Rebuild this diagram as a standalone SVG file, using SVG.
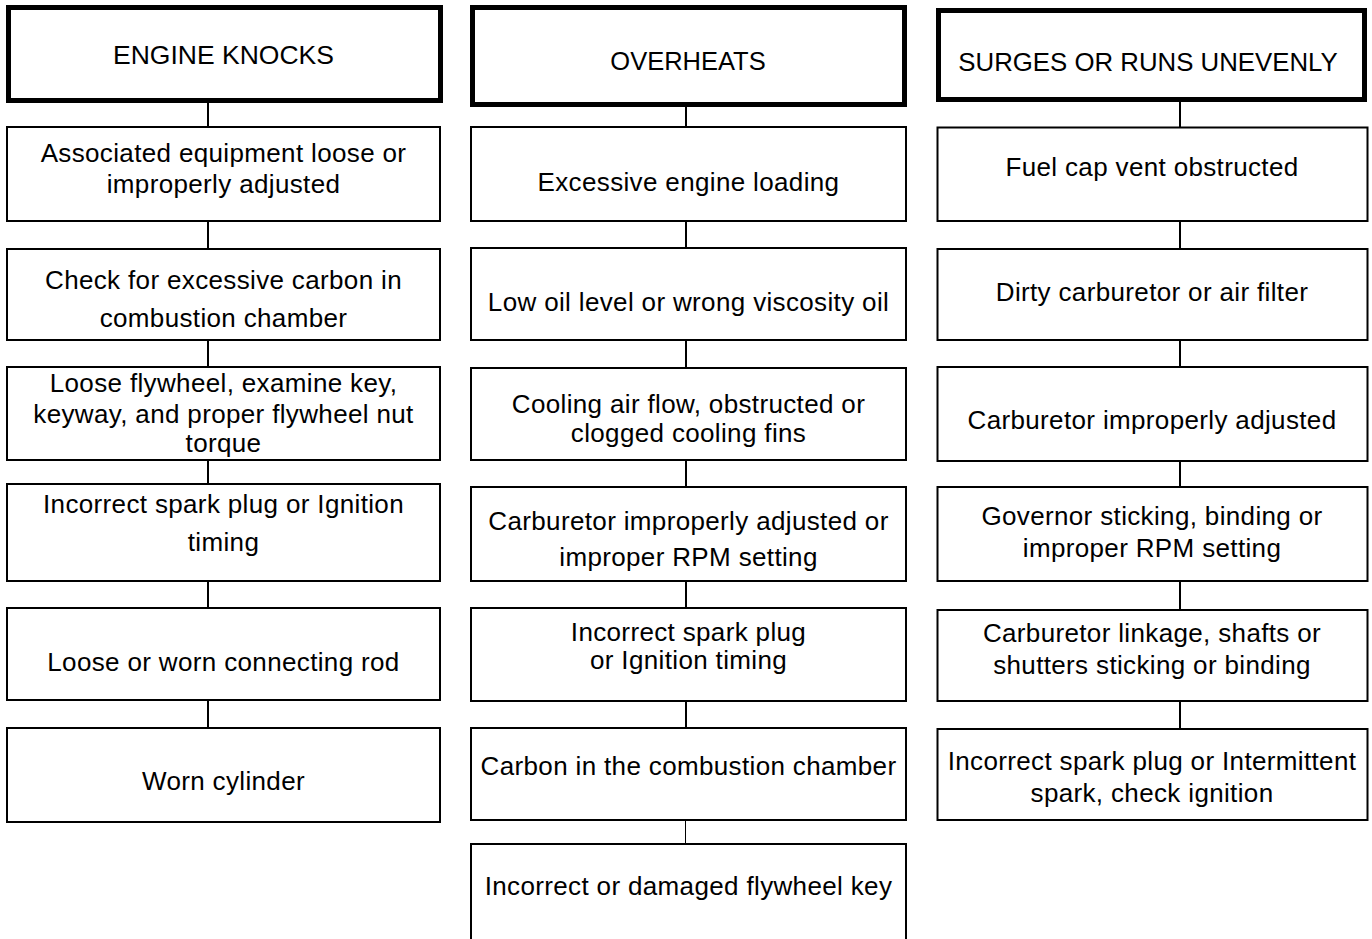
<svg xmlns="http://www.w3.org/2000/svg" width="1372" height="939" viewBox="0 0 1372 939">
<style>
.hdr{fill:#fff;stroke:#000;stroke-width:5}
.box{fill:#fff;stroke:#000;stroke-width:2}
.t{font-family:"Liberation Sans",Arial,sans-serif;font-size:26px;letter-spacing:0.35px;fill:#000;text-anchor:middle}
.h{font-family:"Liberation Sans",Arial,sans-serif;font-size:25.5px;fill:#000;text-anchor:middle}
.c{stroke:#000;stroke-width:2;fill:none}
</style>
<rect width="1372" height="939" fill="#fff"/>
<g id="connectors">
<path class="c" d="M208,103V127M208,221V249M208,340V367M208,460V484M208,581V608M208,700V728"/>
<path class="c" d="M686,105V127M686,221V248M686,340V368M686,460V487M686,581V608M686,701V728"/>
<path d="M685.5,820V846" stroke="#000" stroke-width="1"/>
<path class="c" d="M1180,100V128M1180,221V249M1180,340V367M1180,461V487M1180,581V610M1180,701V729"/>
</g>
<g id="n-engine-knocks"><rect class="hdr" x="8.5" y="7.5" width="432" height="93"/><text class="h" x="223.5" y="64" style="font-size:26.5px">ENGINE KNOCKS</text></g>
<g id="n-k1"><rect class="box" x="7" y="127" width="433" height="94"/><text class="t" x="223.5" y="162">Associated equipment loose or</text><text class="t" x="223.5" y="193">improperly adjusted</text></g>
<g id="n-k2"><rect class="box" x="7" y="249" width="433" height="91"/><text class="t" x="223.5" y="289">Check for excessive carbon in</text><text class="t" x="223.5" y="327">combustion chamber</text></g>
<g id="n-k3"><rect class="box" x="7" y="367" width="433" height="93"/><text class="t" x="223.5" y="392">Loose flywheel, examine key,</text><text class="t" x="223.5" y="423">keyway, and proper flywheel nut</text><text class="t" x="223.5" y="452">torque</text></g>
<g id="n-k4"><rect class="box" x="7" y="484" width="433" height="97"/><text class="t" x="223.5" y="513">Incorrect spark plug or Ignition</text><text class="t" x="223.5" y="551">timing</text></g>
<g id="n-k5"><rect class="box" x="7" y="608" width="433" height="92"/><text class="t" x="223.5" y="671">Loose or worn connecting rod</text></g>
<g id="n-k6"><rect class="box" x="7" y="728" width="433" height="94"/><text class="t" x="223.5" y="790">Worn cylinder</text></g>

<g id="n-overheats"><rect class="hdr" x="472.5" y="7.5" width="432" height="97"/><text class="h" x="688" y="70">OVERHEATS</text></g>
<g id="n-o1"><rect class="box" x="471" y="127" width="435" height="94"/><text class="t" x="688.5" y="191">Excessive engine loading</text></g>
<g id="n-o2"><rect class="box" x="471" y="248" width="435" height="92"/><text class="t" x="688.5" y="311">Low oil level or wrong viscosity oil</text></g>
<g id="n-o3"><rect class="box" x="471" y="368" width="435" height="92"/><text class="t" x="688.5" y="413">Cooling air flow, obstructed or</text><text class="t" x="688.5" y="442">clogged cooling fins</text></g>
<g id="n-o4"><rect class="box" x="471" y="487" width="435" height="94"/><text class="t" x="688.5" y="530">Carburetor improperly adjusted or</text><text class="t" x="688.5" y="566">improper RPM setting</text></g>
<g id="n-o5"><rect class="box" x="471" y="608" width="435" height="93"/><text class="t" x="688.5" y="641">Incorrect spark plug</text><text class="t" x="688.5" y="669">or Ignition timing</text></g>
<g id="n-o6"><rect class="box" x="471" y="728" width="435" height="92"/><text class="t" x="688.5" y="775">Carbon in the combustion chamber</text></g>
<g id="n-o7"><rect class="box" x="471" y="844" width="435" height="130"/><text class="t" x="688.5" y="895">Incorrect or damaged flywheel key</text></g>

<g id="n-surges"><rect class="hdr" x="938.5" y="10.5" width="426" height="89"/><text class="h" x="1148" y="71" style="font-size:25.8px">SURGES OR RUNS UNEVENLY</text></g>
<g id="n-s1"><rect class="box" x="937.5" y="127.5" width="430" height="93.5"/><text class="t" x="1152" y="176">Fuel cap vent obstructed</text></g>
<g id="n-s2"><rect class="box" x="937.5" y="249" width="430" height="91"/><text class="t" x="1152" y="301">Dirty carburetor or air filter</text></g>
<g id="n-s3"><rect class="box" x="937.5" y="367" width="430" height="94"/><text class="t" x="1152" y="429">Carburetor improperly adjusted</text></g>
<g id="n-s4"><rect class="box" x="937.5" y="487" width="430" height="94"/><text class="t" x="1152" y="525">Governor sticking, binding or</text><text class="t" x="1152" y="557">improper RPM setting</text></g>
<g id="n-s5"><rect class="box" x="937.5" y="610" width="430" height="91"/><text class="t" x="1152" y="642">Carburetor linkage, shafts or</text><text class="t" x="1152" y="674">shutters sticking or binding</text></g>
<g id="n-s6"><rect class="box" x="937.5" y="729" width="430" height="91"/><text class="t" x="1152" y="770">Incorrect spark plug or Intermittent</text><text class="t" x="1152" y="802">spark, check ignition</text></g>
</svg>
